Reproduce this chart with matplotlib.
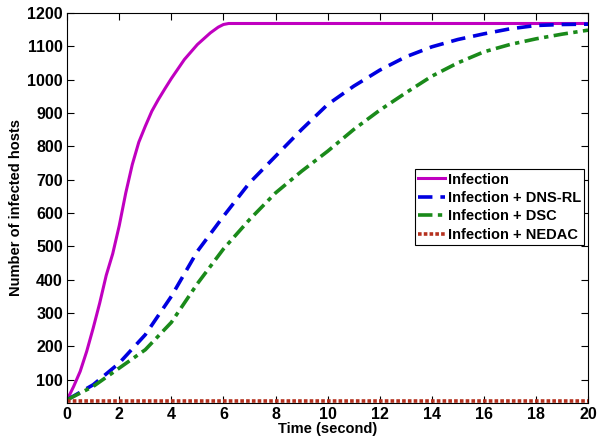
import matplotlib
matplotlib.use("Agg")
import matplotlib.pyplot as plt
import numpy as np

plt.rcParams['font.family'] = ['Liberation Sans', 'DejaVu Sans']
plt.rcParams['font.weight'] = 'bold'

# Infection (no defence)
t_inf = [0, 0.25, 0.5, 0.75, 1, 1.25, 1.5, 1.75, 2, 2.25, 2.5, 2.75, 3, 3.25, 3.5, 3.75,
         4, 4.5, 5, 5.5, 5.8, 6, 6.2, 20]
y_inf = [40, 80, 125, 185, 255, 330, 413, 478, 562, 660, 745, 812, 860, 905, 940, 972,
         1003, 1060, 1105, 1140, 1157, 1165, 1168, 1168]

# Infection + DNS-RL
t_dns = [0, 1, 2, 3, 4, 5, 6, 7, 8, 9, 10, 11, 12, 13, 14, 15, 16, 17, 18, 19, 20]
y_dns = [40, 85, 150, 235, 350, 485, 590, 690, 770, 850, 925, 980, 1028, 1068, 1098,
         1120, 1137, 1152, 1162, 1165, 1166]

# Infection + DSC
t_dsc = [0, 1, 2, 3, 4, 5, 6, 7, 8, 9, 10, 11, 12, 13, 14, 15, 16, 17, 18, 19, 20]
y_dsc = [40, 80, 135, 190, 272, 388, 492, 580, 660, 725, 785, 850, 908, 960, 1010,
         1050, 1083, 1105, 1122, 1136, 1148]

# Infection + NEDAC
t_ned = [0, 20]
y_ned = [35, 35]

fig = plt.figure(figsize=(6.05, 4.42), dpi=100)
ax = fig.add_axes([0.111, 0.088, 0.861, 0.883])

ax.plot(t_inf, y_inf, '-', color='#c000c0', lw=2.2, label='Infection')
ax.plot(t_dns, y_dns, '--', color='#0000e0', lw=2.6, dashes=(4, 2.2), label='Infection + DNS-RL')
ax.plot(t_dsc, y_dsc, '-.', color='#1a8a1a', lw=2.6, dashes=(4, 1.5, 1.2, 1.5), label='Infection + DSC')
ax.plot(t_ned, y_ned, ':', color='#b5301e', lw=2.6, dashes=(1, 0.6), label='Infection + NEDAC')

ax.set_xlim(0, 20)
ax.set_ylim(30, 1200)
ax.set_xticks(np.arange(0, 21, 2))
ax.set_yticks(np.arange(100, 1201, 100))
ax.tick_params(direction='in', top=True, right=True, labelsize=11.5, length=5, pad=3)
for lab in ax.get_xticklabels() + ax.get_yticklabels():
    lab.set_fontweight('bold')

ax.set_xlabel('Time (second)', fontsize=10.5, fontweight='bold', labelpad=0)
ax.set_ylabel('Number of infected hosts', fontsize=10.5, fontweight='bold', labelpad=3)

leg = ax.legend(loc='upper right', bbox_to_anchor=(0.993, 0.6), fontsize=10.5,
                handlelength=1.8, handletextpad=0.2, borderpad=0.25, labelspacing=0.3,
                borderaxespad=0, fancybox=False, framealpha=1, edgecolor='black')
leg.get_frame().set_linewidth(0.8)
for txt in leg.get_texts():
    txt.set_fontweight('bold')

fig.savefig('out.png', dpi=100)
